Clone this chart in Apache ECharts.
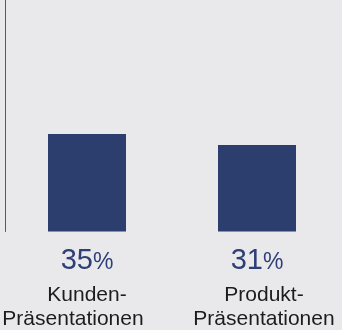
<!DOCTYPE html>
<html>
<head>
<meta charset="utf-8">
<script src="https://cdn.jsdelivr.net/npm/echarts@6/dist/echarts.min.js"></script>
<style>
html, body { margin: 0; padding: 0; background: #e9e9eb; }
#main { width: 342px; height: 330px; }
</style>
</head>
<body>
<div id="main"></div>
<script>
var categories = ['Kunden-\nPräsentationen', 'Produkt-\nPräsentationen'];
var values = [35, 31];

var myChart = echarts.init(document.getElementById('main'));
var option = {
	backgroundColor: '#e9e9eb',
	animation: false,
	grid: {
		left: 2,
		width: 345,
		top: 0,
		bottom: 95
	},
	xAxis: {
		type: 'category',
		data: categories,
		axisLine: { show: false },
		axisTick: { show: false },
		axisLabel: {
			interval: 0,
			margin: 7,
			formatter: function (name, i) {
				var lines = name.split('\n');
				// zweite Zeile sitzt im Original etwas versetzt
				return '{v|' + values[i] + '}{p|%}\n{a' + i + '|' + lines[0] + '}\n{b' + i + '|' + lines[1] + '}';
			},
			rich: {
				v: {
					fontFamily: 'Liberation Sans',
					fontSize: 29,
					color: '#2e3f78',
					lineHeight: 45
				},
				p: {
					fontFamily: 'Liberation Sans',
					fontSize: 23,
					color: '#2e3f78',
					lineHeight: 45,
					padding: [4, 0, 0, 0]
				},
				a0: {
					fontFamily: 'Liberation Sans',
					fontSize: 21,
					color: '#1c1c1c',
					lineHeight: 24
				},
				b0: {
					fontFamily: 'Liberation Sans',
					fontSize: 21,
					color: '#1c1c1c',
					lineHeight: 24,
					padding: [0, 28, 0, 0]
				},
				a1: {
					fontFamily: 'Liberation Sans',
					fontSize: 21,
					color: '#1c1c1c',
					lineHeight: 24,
					padding: [0, 0, 0, 14]
				},
				b1: {
					fontFamily: 'Liberation Sans',
					fontSize: 21,
					color: '#1c1c1c',
					lineHeight: 24,
					padding: [0, 0, 0, 14]
				}
			}
		}
	},
	yAxis: {
		type: 'value',
		min: 0,
		max: 83,
		offset: -3,
		axisLine: {
			show: true,
			lineStyle: { color: '#5a5a5a', width: 1 }
		},
		axisTick: { show: false },
		axisLabel: { show: false },
		splitLine: { show: false }
	},
	series: [{
		type: 'bar',
		barWidth: 78,
		itemStyle: { color: '#2c3e6d' },
		data: values
	}]
};
myChart.setOption(option);
</script>
</body>
</html>
